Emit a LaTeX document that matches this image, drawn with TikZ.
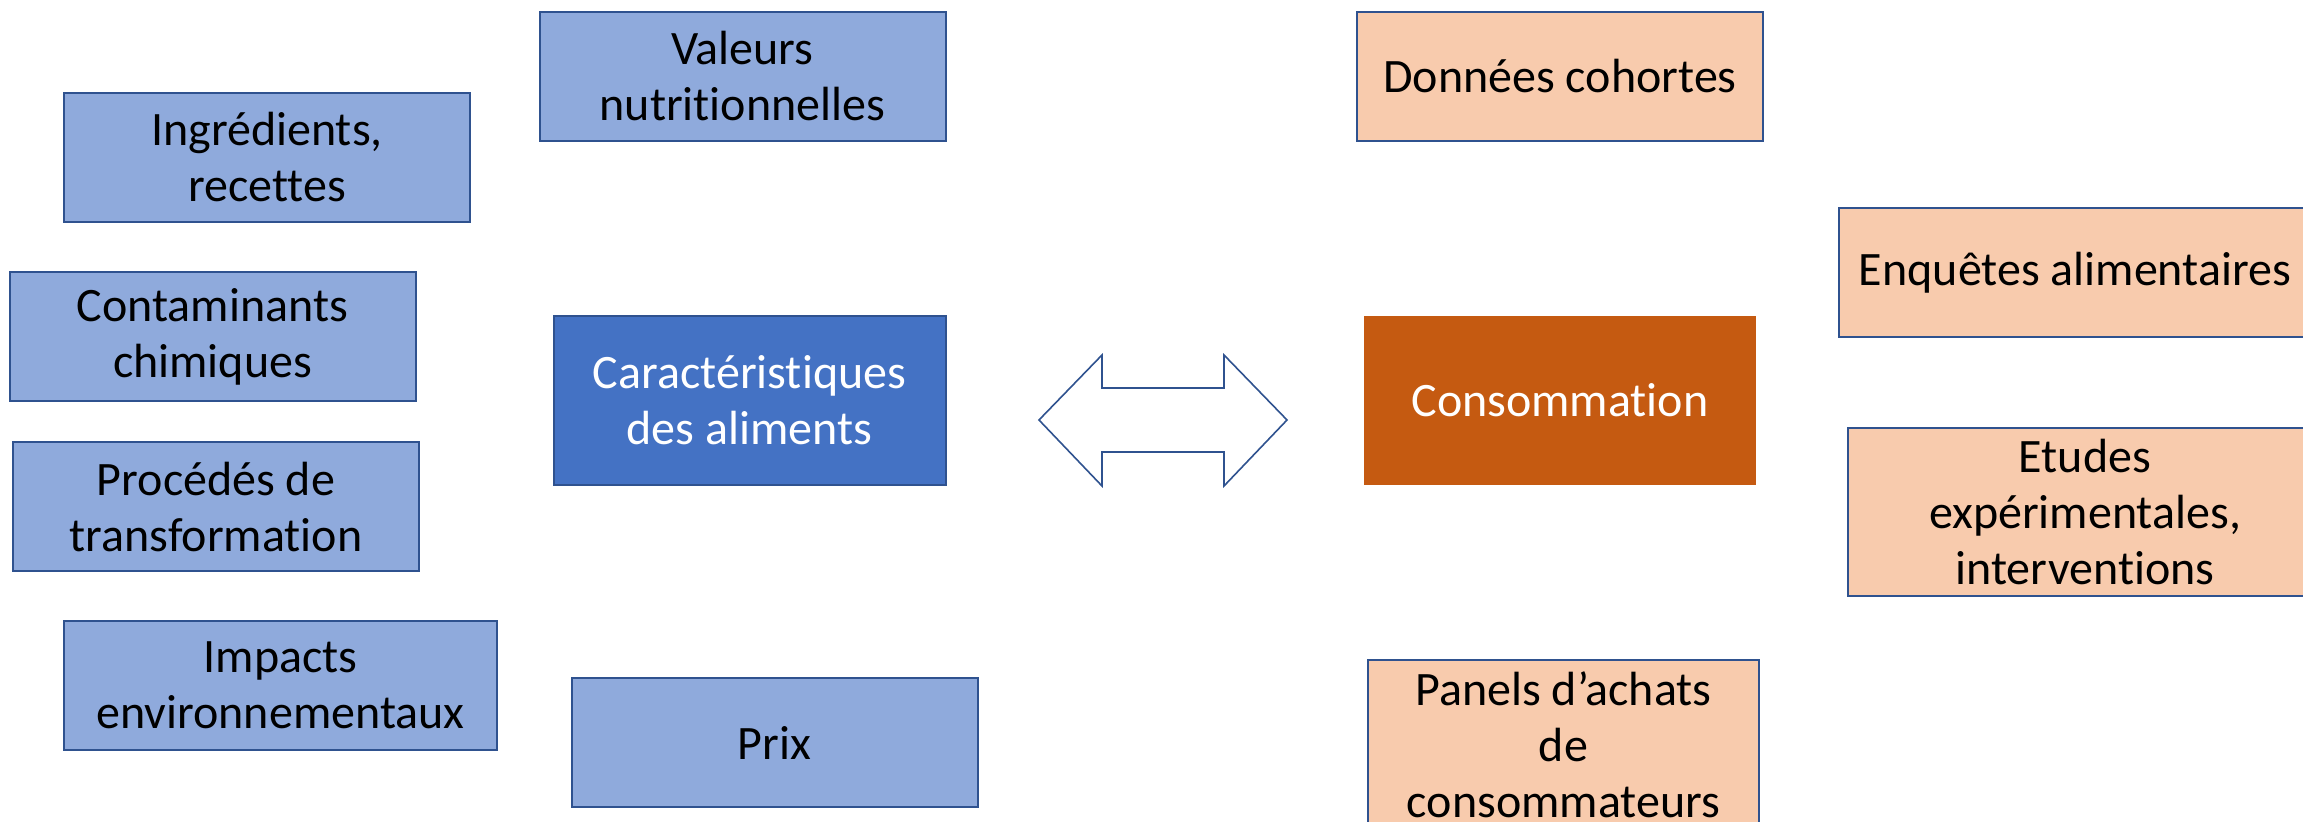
\documentclass[tikz,border=0pt]{standalone}
\usepackage{fontspec}
\setmainfont{Carlito}[Ligatures=CommonOff]
\definecolor{edgeblue}{HTML}{2F528F}
\definecolor{featfill}{HTML}{8FAADC}
\definecolor{featmain}{HTML}{4472C4}
\definecolor{consofill}{HTML}{F8CBAD}
\definecolor{consomain}{HTML}{C55A11}
\begin{document}
\begin{tikzpicture}[x=0.5pt,y=-0.5pt,
    box/.style={draw=edgeblue,line width=1pt,inner sep=0pt,align=center,
      font=\fontsize{24}{28}\selectfont,minimum width=203pt,minimum height=64.5pt},
    feat/.style={box,fill=featfill},
    conso/.style={box,fill=consofill},
    mainbox/.style={box,text=white,minimum width=196pt,minimum height=84.5pt}]
    \useasboundingbox (0,0) rectangle (2303,822);
    \fill[white] (0,0) rectangle (2303,822);
    \clip (0,0) rectangle (2303,822);
% caracteristiques des aliments
    \node[feat] (valeurs) at (742.5,76.5) {Valeurs\\nutritionnelles};
    \node[feat] (ingr) at (267,157.5) {Ingrédients,\\recettes};
    \node[feat] (contam) at (212.5,336.5) {Contaminants\\chimiques};
    \node[feat] (proced) at (216,507) {Procédés de\\transformation};
    \node[feat,minimum width=216.5pt] (impacts) at (280.5,685.5) {Impacts\\environnementaux};
    \node[feat] (prix) at (774.5,742.5) {Prix};
    \node[mainbox,fill=featmain] (carac) at (749.5,400.5) {Caractéristiques\\des aliments};
% consommation
    \node[mainbox,fill=consomain,draw=none] (conso) at (1560,400.5) {Consommation};
    \node[conso] (donnees) at (1560,76.5) {Données cohortes};
    \node[conso,minimum width=236pt] (enquetes) at (2075,273) {Enquêtes alimentaires};
    \node[conso,minimum width=237pt,minimum height=84pt] (etudes) at (2085,512) {Etudes\\expérimentales,\\interventions};
    \node[conso,minimum width=195.5pt,minimum height=85pt] (panels) at (1563.5,745) {Panels d’achats\\de\\consommateurs};
% double fleche
    \draw[edgeblue,line width=0.8pt,fill=white] (1039,420)--(1102,355)--(1102,388)--(1224,388)--(1224,355)--(1287,420)
        --(1224,486)--(1224,452)--(1102,452)--(1102,486)--cycle;
\end{tikzpicture}
\end{document}
